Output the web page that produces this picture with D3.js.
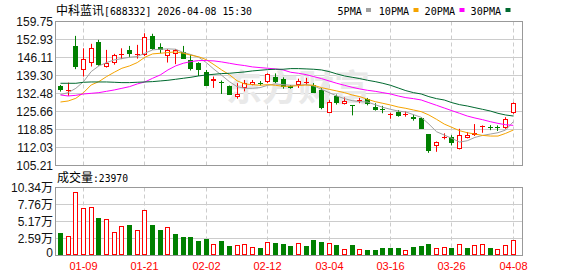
<!DOCTYPE html>
<html>
<head>
<meta charset="utf-8">
<script src="https://cdn.jsdelivr.net/npm/d3@7"></script>
<style>
  body { margin: 0; background: #fff; }
  svg { display: block; }
  text { font-family: "Liberation Sans", Arial, "Noto Sans CJK SC", sans-serif; }
</style>
</head>
<body>
<svg id="svg1" width="578" height="276"></svg>
<script>
// ---- data ----
var dates = ["2026-01-06","2026-01-07","2026-01-08","2026-01-09","2026-01-12","2026-01-13","2026-01-14","2026-01-15","2026-01-16","2026-01-19",
  "2026-01-20","2026-01-21","2026-01-22","2026-01-23","2026-01-26","2026-01-27","2026-01-28","2026-01-29","2026-01-30","2026-02-02",
  "2026-02-03","2026-02-04","2026-02-05","2026-02-06","2026-02-09","2026-02-10","2026-02-11","2026-02-12","2026-02-13","2026-02-24",
  "2026-02-25","2026-02-26","2026-02-27","2026-03-02","2026-03-03","2026-03-04","2026-03-05","2026-03-06","2026-03-09","2026-03-10",
  "2026-03-11","2026-03-12","2026-03-13","2026-03-16","2026-03-17","2026-03-18","2026-03-19","2026-03-20","2026-03-23","2026-03-24",
  "2026-03-25","2026-03-26","2026-03-27","2026-03-30","2026-03-31","2026-04-01","2026-04-02","2026-04-03","2026-04-07","2026-04-08"];

var opens = [135.3,133.5,150.5,141.2,144.2,151.9,142.4,144.2,147.2,149.0, 147.2,147.2,154.3,150.0,146.7,147.5,148.2,145.2,144.2,140.7,
  137.4,136.9,135.3,131.0,134.6,135.8,136.4,136.9,138.6,137.9, 135.2,135.8,136.5,135.6,133.8,125.2,131.5,128.5,128.0,129.6,
  130.5,127.5,126.6,124.3,125.5,124.6,123.7,123.2,117.1,112.7, 115.7,116.1,111.6,115.6,116.6,119.8,119.8,119.8,119.4,125.0];
var highs = [135.7,136.6,154.3,149.6,151.3,152.8,149.0,147.5,149.6,150.5, 150.9,155.3,155.1,151.5,149.3,149.3,150.5,147.2,144.3,141.4,
  138.9,137.4,135.5,136.4,137.6,137.6,137.2,140.1,140.1,138.6, 135.7,138.1,138.4,136.4,134.5,130.0,132.1,131.0,128.1,130.8,
  130.8,128.8,127.8,125.2,126.2,125.7,124.5,123.5,117.1,114.3, 117.4,116.7,119.1,117.9,120.9,120.4,120.5,120.4,123.5,129.1];
var lows = [133.2,131.6,141.7,138.9,142.7,143.0,142.3,143.4,145.5,146.2, 145.7,146.7,149.0,147.7,144.2,143.6,145.6,141.2,139.1,135.3,
  134.6,132.3,132.0,130.5,133.3,135.6,135.5,136.4,136.4,134.3, 134.3,134.6,135.6,132.7,126.5,125.2,128.3,128.3,124.2,128.8,
  128.0,126.0,125.0,122.9,123.7,123.7,122.2,119.1,110.0,110.4, 115.1,112.8,111.3,115.5,116.4,117.6,118.6,118.3,119.1,124.8];
var closes = [133.7,133.9,142.7,145.5,149.6,143.2,143.9,147.0,147.5,147.4, 147.5,153.8,149.5,148.8,149.1,149.0,145.7,141.9,141.4,135.3,
  138.1,136.6,132.1,132.3,136.4,136.9,136.1,139.9,136.9,135.1, 134.7,137.4,136.7,132.8,126.9,129.3,129.0,129.8,127.9,129.9,
  128.5,126.4,126.3,124.6,124.0,124.8,122.7,119.1,110.8,114.3, 116.0,113.6,116.9,116.6,117.4,120.0,119.4,119.5,122.7,129.0];
var volumes = [33460,29910,96820,71470,74010,56270,54750,35990,45110,45620, 39030,69450,45620,38020,43590,31940,28890,28890,21290,24330,
  17740,21290,13690,16220,17740,13180,10650,20780,18250,16730, 13690,19270,13690,22810,19770,19270,15210,10140,15210,10140,
  9120,9120,10650,10650,10650,8620,12170,13690,16730,11660, 13180,10650,17740,10650,16220,17740,10650,10140,16220,23970];

var ma5 = [132.05,132.8,134.45,136.98,140.78,142.93,144.19,145.2,145.71,146.22, 146.47,147.73,149.0,149.25,149.38,149.25,148.0,147.23,146.22,144.19,
  141.66,139.38,136.98,135.08,134.45,134.45,134.7,135.59,136.1,135.84, 135.59,135.59,135.84,135.33,134.07,132.8,131.54,130.53,129.77,129.39,
  129.26,128.25,127.24,126.48,125.85,125.47,124.46,123.45,120.91,118.01, 116.74,115.48,114.08,114.59,115.85,116.61,117.12,117.63,118.64,121.81];
var ma10 = [129.26,129.64,130.66,132.8,135.72,136.98,138.88,140.52,142.04,142.93, 144.19,146.22,147.48,147.73,147.98,148.24,147.73,146.97,146.4,145.3,
  143.4,141.4,139.6,137.3,136.1,135.84,135.59,135.84,135.59,135.21, 135.21,135.46,135.72,135.59,134.7,134.07,133.44,132.8,131.92,131.29,
  130.28,129.39,128.76,128.13,127.37,126.86,126.23,125.6,124.34,122.69, 120.91,119.65,118.39,117.63,117.12,116.61,116.36,116.36,117.38,118.64];
var ma20 = [131.92,131.54,131.79,132.3,132.55,132.8,133.31,133.82,134.45,135.08, 136.1,136.85,138.25,139.51,141.41,142.93,143.94,144.57,144.95,144.95,
  144.82,144.44,143.94,143.43,143.05,142.55,142.29,142.04,141.79,141.41, 140.52,140.14,139.64,138.88,138.12,137.23,136.35,135.59,134.83,134.2,
  133.69,133.31,132.8,132.3,131.54,130.91,130.53,130.02,129.01,128.0, 126.99,125.97,124.97,123.95,123.2,122.56,121.81,121.17,120.66,120.41];
var ma30 = [136.35,136.35,136.35,136.73,136.85,136.85,136.85,136.73,136.6,136.6, 136.73,136.85,136.98,137.23,137.49,137.86,138.25,138.63,139.13,139.51,
  139.76,140.02,140.14,140.4,140.65,141.03,141.28,141.53,141.66,141.66, 141.91,141.91,141.79,141.66,141.41,140.78,139.89,139.13,138.63,138.12,
  137.49,136.98,136.35,135.59,134.58,133.56,132.8,132.3,131.29,130.53, 130.02,129.01,128.25,127.75,127.11,126.48,125.85,124.97,124.34,123.95];

var priceTicks = [159.75,152.93,146.11,139.30,132.48,125.66,118.85,112.03,105.21];
var volTicks = [103400,77600,51700,25900,0];
var volTickLabels = ["10.34万","7.76万","5.17万","2.59万","0"];
var dateTicks = ["2026-01-09","2026-01-21","2026-02-02","2026-02-12","2026-03-04","2026-03-16","2026-03-26","2026-04-08"];

var maNames = ["5PMA","10PMA","20PMA","30PMA"];
var maColors = ["#a0a0a0","#f5a300","#ff00ff","#00692f"];

var RED = "#ff0000", GREEN = "#008000";

// ---- layout ----
var plotLeft = 55.5, plotRight = 522.5;
var mainTop = 21.5, mainBottom = 165.5;
var volTop = 187.5, volBottom = 255.5;

var svg = d3.select('#svg1');

var scaleX = d3.scaleBand().domain(dates).range([56.66, 56.66 + 7.675 * dates.length]);
var scaleY = d3.scaleLinear().domain([105.21, 159.75]).range([mainBottom, mainTop]);
var scaleV = d3.scaleLinear().domain([0, 103400]).range([volBottom, volTop]);

function cx(d) { return scaleX(d) + scaleX.bandwidth() / 2; }
function left(d) { return Math.round(cx(d) - 2.5); }
function crisp(v) { return Math.round(v - 0.5) + 0.5; }

// ---- grids ----
var grid = svg.append('g');
priceTicks.forEach(function(v) {
  grid.append('line').attr('x1', plotLeft).attr('x2', plotRight)
    .attr('y1', crisp(scaleY(v))).attr('y2', crisp(scaleY(v)))
    .attr('stroke', '#cccccc');
});
volTicks.forEach(function(v) {
  grid.append('line').attr('x1', plotLeft).attr('x2', plotRight)
    .attr('y1', crisp(scaleV(v))).attr('y2', crisp(scaleV(v)))
    .attr('stroke', '#cccccc');
});
dateTicks.forEach(function(d) {
  var x = left(d) + 2.5;
  [[mainTop, mainBottom], [volTop, volBottom]].forEach(function(r) {
    grid.append('line').attr('x1', x).attr('x2', x).attr('y1', r[0]).attr('y2', r[1])
      .attr('stroke', '#cccccc').attr('stroke-dasharray', '4,3');
  });
});

// watermark
svg.append('text').attr('x', 226).attr('y', 101)
  .style('font-family', '"Noto Sans CJK SC"').style('font-size', '36px').style('font-weight', 'bold')
  .attr('fill', '#e9e9e9').text('东方财富');

// ---- candles ----
var candles = svg.append('g');
dates.forEach(function(d, i) {
  var o = opens[i], c = closes[i];
  var x0 = left(d);
  var up = c >= o;
  var col = up ? RED : GREEN;
  var yTop = Math.round(scaleY(Math.max(o, c)));
  var yBot = Math.round(scaleY(Math.min(o, c)));
  var yH = scaleY(highs[i]), yL = scaleY(lows[i]);
  var wx = x0 + 2.5;
  if (up) {
    candles.append('line').attr('x1', wx).attr('x2', wx).attr('y1', yH).attr('y2', yTop).attr('stroke', col);
    candles.append('line').attr('x1', wx).attr('x2', wx).attr('y1', yBot).attr('y2', yL).attr('stroke', col);
    if (yBot - yTop < 2) {
      candles.append('rect').attr('x', x0).attr('y', yTop).attr('width', 5).attr('height', Math.max(1, yBot - yTop)).attr('fill', col);
    } else {
      candles.append('rect').attr('x', x0 + 0.5).attr('y', yTop + 0.5).attr('width', 4).attr('height', yBot - yTop - 1)
        .attr('fill', '#fff').attr('stroke', col);
    }
  } else {
    candles.append('line').attr('x1', wx).attr('x2', wx).attr('y1', yH).attr('y2', yL).attr('stroke', col);
    candles.append('rect').attr('x', x0).attr('y', yTop).attr('width', 5).attr('height', Math.max(1, yBot - yTop)).attr('fill', col);
  }
});

// ---- moving averages ----
[ma5, ma10, ma20, ma30].forEach(function(arr, k) {
  var line = d3.line()
    .x(function(v, i) { return cx(dates[i]); })
    .y(function(v) { return scaleY(v); });
  svg.append('path').datum(arr).attr('d', line)
    .attr('fill', 'none').attr('stroke', maColors[k]).attr('stroke-width', 1);
});

// ---- volume ----
var vol = svg.append('g');
dates.forEach(function(d, i) {
  var x0 = left(d);
  var up = i === 0 ? closes[i] >= opens[i] : closes[i] >= closes[i - 1];
  var top = Math.round(scaleV(volumes[i]));
  var bottom = 255;
  if (up) {
    vol.append('rect').attr('x', x0 + 0.5).attr('y', top + 0.5).attr('width', 4).attr('height', bottom - top - 1)
      .attr('fill', '#fff').attr('stroke', RED);
  } else {
    vol.append('rect').attr('x', x0).attr('y', top).attr('width', 5).attr('height', bottom - top).attr('fill', GREEN);
  }
});

// ---- frames ----
svg.append('rect').attr('x', plotLeft).attr('y', mainTop).attr('width', plotRight - plotLeft).attr('height', mainBottom - mainTop)
  .attr('fill', 'none').attr('stroke', '#999999');
svg.append('rect').attr('x', plotLeft).attr('y', volTop).attr('width', plotRight - plotLeft).attr('height', volBottom - volTop)
  .attr('fill', 'none').attr('stroke', '#999999');

// ---- axes labels ----
var yAxis = svg.append('g').attr('transform', 'translate(53,0)')
  .call(d3.axisLeft(scaleY).tickValues(priceTicks).tickSize(0).tickPadding(0).tickFormat(d3.format('.2f')));
yAxis.select('.domain').remove();
yAxis.selectAll('text').style('font-size', '12px').attr('fill', '#111');

var vAxis = svg.append('g').attr('transform', 'translate(53,0)')
  .call(d3.axisLeft(scaleV).tickValues(volTicks).tickSize(0).tickPadding(0)
    .tickFormat(function(v, i) { return volTickLabels[i]; }));
vAxis.select('.domain').remove();
vAxis.selectAll('text').style('font-size', '12px').attr('fill', '#111');
vAxis.selectAll('.tick').filter(function(v) { return v === 0; }).select('text').attr('dy', '0.1em');

svg.append('g').selectAll('text').data(dateTicks).enter().append('text')
  .attr('x', function(d) { return left(d) + 2.5; })
  .attr('y', 270)
  .attr('text-anchor', 'middle')
  .style('font-size', '11px')
  .attr('fill', RED)
  .text(function(d) { return d.slice(5); });

// ---- title & legend ----
var title = svg.append('text').attr('x', 56).attr('y', 14.5).attr('fill', '#000');
title.append('tspan').style('font-family', '"Noto Sans CJK SC"').style('font-size', '12px').text('中科蓝讯');
title.append('tspan').style('font-family', '"DejaVu Sans Mono"').style('font-size', '11px')
  .attr('textLength', 148).attr('lengthAdjust', 'spacingAndGlyphs').text('[688332] 2026-04-08 15:30');

var legendX = [337.5, 378.7, 424.6, 470.6];
var legendSq = [366, 413.5, 459.5, 505.5];
maNames.forEach(function(n, k) {
  svg.append('text').attr('x', legendX[k]).attr('y', 14.5)
    .style('font-family', '"DejaVu Sans Mono"').style('font-size', '11px')
    .attr('textLength', n.length * 6.1).attr('lengthAdjust', 'spacingAndGlyphs')
    .attr('fill', '#000').text(n);
  svg.append('rect').attr('x', legendSq[k]).attr('y', 8).attr('width', 5).attr('height', 4).attr('fill', maColors[k]);
});

var vt = svg.append('text').attr('x', 57).attr('y', 181.5).attr('fill', '#000');
vt.append('tspan').style('font-family', '"Noto Sans CJK SC"').style('font-size', '12px').text('成交量');
vt.append('tspan').style('font-family', '"DejaVu Sans Mono"').style('font-size', '11px')
  .attr('textLength', 35).attr('lengthAdjust', 'spacingAndGlyphs').text(':23970');
</script>
</body>
</html>
